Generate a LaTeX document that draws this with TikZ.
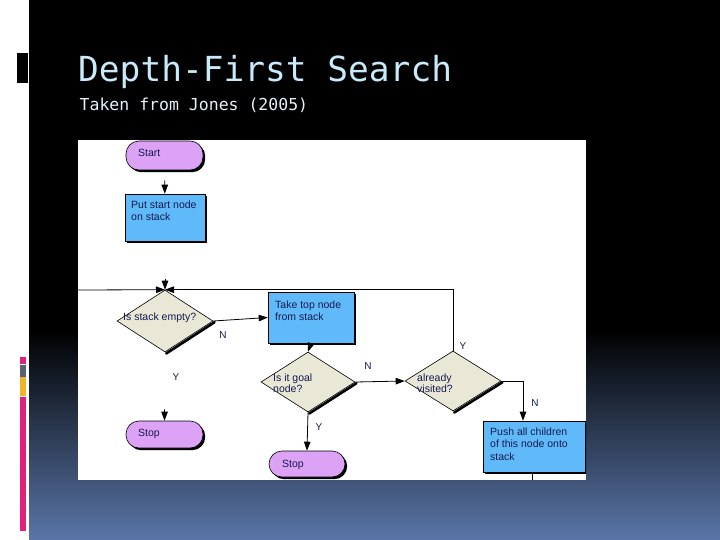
\documentclass[tikz,border=0pt]{standalone}
\usepackage{fontspec}
\setmainfont{Liberation Sans}
\newfontfamily\titlefont{DejaVu Sans Mono}
\usetikzlibrary{shapes.geometric,arrows.meta,shadows}
\definecolor{pillviolet}{RGB}{220,162,246}
\definecolor{boxblue}{RGB}{96,186,250}
\definecolor{diabeige}{RGB}{233,231,214}
\definecolor{inktext}{RGB}{22,26,80}
\definecolor{titleblue}{RGB}{200,234,250}
\definecolor{subwhite}{RGB}{228,242,250}
\definecolor{bottomblue}{RGB}{90,118,168}
\definecolor{accpink}{RGB}{224,33,124}
\definecolor{accgrey}{RGB}{88,98,112}
\definecolor{accyellow}{RGB}{240,180,40}
\tikzset{
  shad/.style={drop shadow={opacity=1,fill=black,shadow xshift=2.2pt,shadow yshift=-2.2pt}},
  pill/.style={draw=black,line width=0.6pt,fill=pillviolet,rounded corners=13pt,inner sep=0pt,shad},
  procbox/.style={draw=black,line width=0.6pt,fill=boxblue,inner sep=0pt,shad},
  decide/.style={diamond,draw=black,line width=0.6pt,fill=diabeige,inner sep=0pt},
  dshadow/.style={draw=black,line width=2.6pt,line cap=round},
  txt/.style={font=\fontsize{10.5}{12.5}\selectfont,text=inktext,inner sep=0pt,anchor=base west,align=left},
  dtxt/.style={font=\fontsize{10.5}{11}\selectfont,text=inktext,inner sep=0pt,anchor=base west,align=left},
  yn/.style={font=\fontsize{10}{12}\selectfont,text=inktext,inner sep=0pt},
  arr/.style={draw=black,line width=0.8pt,-{Triangle[length=9pt,width=6.5pt]}},
  conn/.style={draw=black,line width=0.8pt}
}
\begin{document}
\begin{tikzpicture}[x=1pt,y=-1pt]
\useasboundingbox (0,0) rectangle (720,540);
% slide background
\fill[white] (0,0) rectangle (720,540);
\fill[black] (29,0) rectangle (720,331);
\shade[top color=black,bottom color=bottomblue] (29,330) rectangle (720,540);
% accent bars
\fill[black] (17,53) rectangle (28,83);
\fill[accpink] (20,357) rectangle (26,364);
\fill[accgrey] (20,365) rectangle (26,377);
\fill[accyellow] (20,377) rectangle (26,396);
\fill[accpink] (20,397) rectangle (26,531);
% titles
\node[anchor=base west,inner sep=0pt,text=titleblue,font=\titlefont\fontsize{34.5}{36}\selectfont] (title) at (78,82) {Depth-First Search};
\node[anchor=base west,inner sep=0pt,text=subwhite,font=\titlefont\fontsize{16.5}{18}\selectfont] (subtitle) at (79.5,111) {Taken from Jones (2005)};
% flowchart image area
\fill[white] (78,140) rectangle (586,480);
\begin{scope}
\clip (78,140) rectangle (586,480);
% nodes
\node[pill,minimum width=77pt,minimum height=29pt] (start) at (164.5,155.5) {};
\node[procbox,minimum width=80pt,minimum height=47pt] (put) at (165,217.5) {};
\node[decide,minimum width=96pt,minimum height=62pt] (empty) at (165,321) {};
\node[procbox,minimum width=86pt,minimum height=51pt] (take) at (311,317.5) {};
\node[decide,minimum width=94pt,minimum height=60pt] (goal) at (308,382) {};
\node[decide,minimum width=96pt,minimum height=60pt] (visited) at (453,381) {};
\node[pill,minimum width=77pt,minimum height=27pt] (stopa) at (164.5,434.5) {};
\node[pill,minimum width=76pt,minimum height=26pt] (stopb) at (307,464) {};
\node[procbox,minimum width=102pt,minimum height=51pt] (push) at (534,446.5) {};
% diamond shadows along the lower-right edge
\draw[dshadow] ([shift={(1.2,1.2)}]empty.east) -- ([shift={(1.2,1.2)}]empty.south);
\draw[dshadow] ([shift={(1.2,1.2)}]goal.east) -- ([shift={(1.2,1.2)}]goal.south);
\draw[dshadow] ([shift={(1.2,1.2)}]visited.east) -- ([shift={(1.2,1.2)}]visited.south);
% texts (base = baseline of the last line)
\node[txt] (tstart) at (138,157) {Start};
\node[txt] (tput) at (131,221) {Put start node\\on stack};
\node[dtxt] (tempty) at (123,320) {Is stack empty?};
\node[txt] (ttake) at (275,320.5) {Take top node\\from stack};
\node[dtxt] (tgoal) at (273,392.5) {Is it goal\\node?};
\node[dtxt] (tvisited) at (417,392) {already\\visited?};
\node[txt] (tstopa) at (138,436.5) {Stop};
\node[txt] (tstopb) at (282,467) {Stop};
\node[txt] (tpush) at (490,460) {Push all children\\of this node onto\\stack};
% coordinates
\coordinate (leftin) at (78,290);
\coordinate (loopc) at (visited.north |- empty.north);
\coordinate (bend) at (523,381);
\coordinate (pushout) at (532,480);
% connectors
\draw[arr,shorten <=10pt] (start) -- (put);
\draw[arr,shorten <=38pt] (put) -- (empty.north);
\draw[arr] (leftin) -- (empty.north);
\draw[arr] (visited.north) -- (loopc) -- (empty.north);
\draw[arr] (empty.east) -- (take.west);
\draw[arr,shorten <=57pt] (empty.south) -- (stopa.north);
\draw[arr] (take.south) -- (goal.north);
\draw[arr] (goal.east) -- (visited.west);
\draw[arr] (goal.south) -- (stopb.north);
\draw[arr] (visited.east) -- (bend) -- (bend |- push.north);
\draw[conn] (pushout |- push.south) -- (pushout);
% branch labels
\node[yn] (lN1) at (223,335) {N};
\node[yn] (lY1) at (176,377) {Y};
\node[yn] (lN2) at (368,366) {N};
\node[yn] (lY2) at (319,427) {Y};
\node[yn] (lY3) at (463,346) {Y};
\node[yn] (lN3) at (535,403) {N};
\end{scope}
\end{tikzpicture}
\end{document}
